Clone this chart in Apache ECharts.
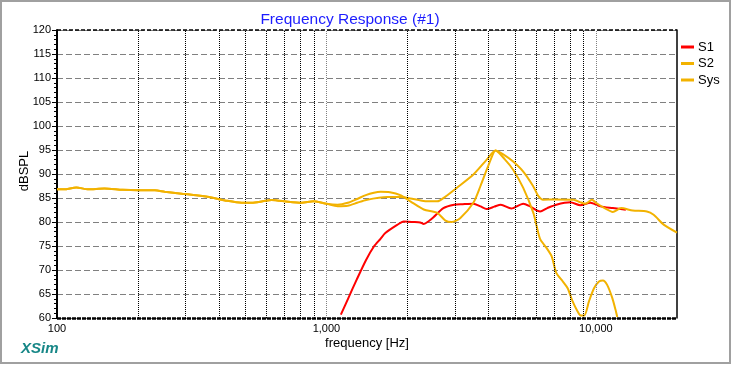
<!DOCTYPE html>
<html>
<head>
<meta charset="utf-8">
<script src="https://cdn.jsdelivr.net/npm/echarts@6/dist/echarts.min.js"></script>
<style>
html,body{margin:0;padding:0;background:#fff;}
#chart{width:733px;height:366px;}
</style>
</head>
<body>
<div id="chart"></div>
<script>
// ---- data ----
const s1Freq = [1131,1207,1295,1403,1500,1587,1654,1830,1935,2100,2228,2296,2400,2496,2717,2978,3200,3510,3730,3935,4200,4436,4855,5375,5700,6205,6600,7129,8034,8756,9535,10390,11555,12920];
const s1Db   = [60.7,64.2,68.0,72.1,74.9,76.5,77.7,79.4,80.1,80.0,79.9,79.6,80.2,81.0,82.9,83.6,83.7,83.8,83.25,82.7,83.2,83.6,82.8,83.8,83.25,82.2,82.9,83.6,84.1,83.5,84.0,83.25,82.9,82.55];

const s2Freq = [100,106,118,130,150,175,200,231,251,290,334,374,420,484,528,580,626,721,809,895,1000,1100,1200,1300,1403,1680,1878,2100,2360,2577,2765,3043,3510,3935,4238,4600,4930,5375,5860,6030,6205,6557,6859,7130,7538,7857,8190,8545,8790,9050,9430,9840,10270,10620,11010,11500,11830,12000];
const s2Db   = [86.8,86.8,87.2,86.8,87.0,86.7,86.6,86.6,86.3,85.9,85.5,85.1,84.5,84.0,84.0,84.3,84.6,84.2,84.0,84.3,83.8,83.3,83.4,84.0,84.6,85.2,85.2,84.8,84.3,84.3,85.3,87.1,89.9,93.0,94.9,93.0,90.9,87.1,81.9,79.1,76.5,74.6,72.8,69.4,67.6,66.2,63.5,61.4,60.5,60.5,63.5,66.2,67.6,67.8,66.9,64.2,61.7,60.2];

const sysFreq = [100,106,118,130,150,175,200,231,251,290,334,374,420,484,528,580,626,721,809,895,1000,1100,1200,1300,1400,1500,1590,1720,1880,2049,2296,2577,2765,2917,3135,3510,3730,3935,4168,4238,4560,4930,5375,5860,6100,6369,7000,8271,8756,9134,9668,10035,10766,11555,12400,13700,15460,16380,17900,20000];
const sysDb   = [86.8,86.8,87.2,86.8,87.0,86.7,86.6,86.6,86.3,85.9,85.5,85.1,84.5,84.0,84.0,84.3,84.6,84.2,84.0,84.3,83.8,83.6,84.0,84.8,85.6,86.1,86.3,86.2,85.6,84.3,82.6,81.9,80.3,80.0,80.8,84.0,87.5,90.9,94.4,94.9,94.0,92.6,90.5,87.4,85.5,84.65,84.7,84.65,84.1,83.8,84.65,83.96,82.9,82.1,82.9,82.4,82.2,81.5,79.4,77.8];

const minorFreqs = [200,300,400,500,600,700,800,900,2000,3000,4000,5000,6000,7000,8000,9000];
const decadeFreqs = [1000,10000];
const yTicks = {min:60, max:120, step:5};

function pairs(f, d){ return f.map((v,i)=>[v, d[i]]); }

const FONT = '"Liberation Sans", Arial, sans-serif';
const ORANGE = '#F2B200';
const RED = '#FF0000';

const chart = echarts.init(document.getElementById('chart'), null, {renderer:'canvas'});
chart.setOption({
  animation:false,
  backgroundColor:'#ffffff',
  title:{
    text:'Frequency Response (#1)',
    left:345, top:7, textAlign:'center',
    textStyle:{color:'#1C1CFF', fontFamily:FONT, fontSize:15.5, fontWeight:'normal'}
  },
  legend:{
    orient:'vertical', left:676, top:35,
    itemWidth:13, itemHeight:3, itemGap:2.5, icon:'rect',
    textStyle:{color:'#000', fontFamily:FONT, fontSize:13, lineHeight:14, padding:[0,0,0,-1]},
    data:['S1','S2','Sys']
  },
  grid:{left:57, right:56, top:30, bottom:48},
  xAxis:{
    type:'log', logBase:10, min:100, max:20000,
    name:'frequency [Hz]', nameLocation:'middle', nameGap:19, nameMoveOverlap:false,
    nameTextStyle:{color:'#000', fontFamily:FONT, fontSize:13},
    axisLine:{show:false},
    axisTick:{show:false},
    axisLabel:{color:'#000', fontFamily:FONT, fontSize:11, margin:5, showMaxLabel:false,
      formatter:function(v){ return Math.round(v).toLocaleString('en-US'); }},
    splitLine:{show:false}
  },
  yAxis:[{
    type:'value', min:yTicks.min, max:yTicks.max, interval:yTicks.step,
    axisLine:{show:true, lineStyle:{color:'#000', width:2}},
    axisTick:{show:true, length:5, lineStyle:{color:'#000'}},
    minorTick:{show:true, splitNumber:5, length:3, lineStyle:{color:'#000'}},
    axisLabel:{color:'#000', fontFamily:FONT, fontSize:11, margin:6},
    splitLine:{show:true, lineStyle:{color:'#808080', type:[6,3], width:1}}
  },{
    type:'value', min:yTicks.min, max:yTicks.max, interval:yTicks.step, position:'right',
    axisLine:{show:true, lineStyle:{color:'#000', width:1.5}},
    axisTick:{show:false}, axisLabel:{show:false}, splitLine:{show:false}
  }],
  graphic:[
    {type:'rect', shape:{x:1, y:1, width:729, height:362}, style:{fill:'none', stroke:'#A0A0A0', lineWidth:2}, silent:true},
    {type:'text', x:24, y:171, rotation:Math.PI/2, style:{text:'dBSPL', fill:'#000', align:'center', verticalAlign:'middle', font:'13px "Liberation Sans", Arial, sans-serif'}, silent:true},
    {type:'text', left:21, top:341, style:{text:'XSim', fill:'#178787', font:'italic bold 15px "Liberation Sans", Arial, sans-serif'}, silent:true}
  ],
  series:[
    {
      name:'grid', type:'line', data:[], silent:true, z:1,
      markLine:{
        silent:true, symbol:'none', label:{show:false}, animation:false,
        data:[].concat(
          minorFreqs.map(f=>({xAxis:f, lineStyle:{color:'#000', type:[1,1], width:1}})),
          decadeFreqs.map(f=>({xAxis:f, lineStyle:{color:'#808080', type:[1,1], width:1}})),
          [{yAxis:120, lineStyle:{color:'#000', type:[4,2], width:1.5}},
           {yAxis:60, lineStyle:{color:'#000', type:[4,1], width:2.5}}]
        )
      }
    },
    {name:'S1', type:'line', data:pairs(s1Freq,s1Db), showSymbol:false, smooth:0.25, z:3,
      itemStyle:{color:RED}, lineStyle:{color:RED, width:2}},
    {name:'S2', type:'line', data:pairs(s2Freq,s2Db), showSymbol:false, smooth:0.25, z:4,
      itemStyle:{color:ORANGE}, lineStyle:{color:ORANGE, width:2}},
    {name:'Sys', type:'line', data:pairs(sysFreq,sysDb), showSymbol:false, smooth:0.25, z:5,
      itemStyle:{color:ORANGE}, lineStyle:{color:ORANGE, width:2}}
  ]
});
</script>
</body>
</html>
